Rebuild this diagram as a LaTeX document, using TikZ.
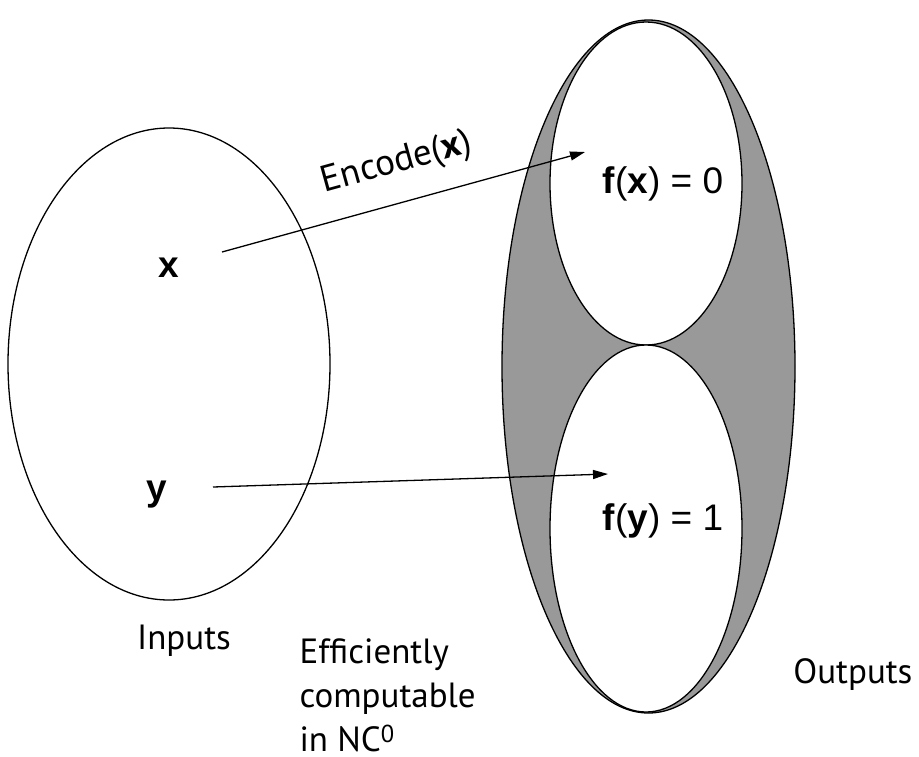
\documentclass[tikz,border=0pt]{standalone}
\usepackage{fontspec}
\setmainfont{PT Sans}
\newfontfamily\arialfont{Liberation Sans}
\usetikzlibrary{arrows.meta}

\tikzset{
  setline/.style={line width=1.3pt},
  txtlabel/.style={font=\fontsize{35}{44}\selectfont},
  arlabel/.style={font=\arialfont\fontsize{37}{40}\selectfont},
}

\begin{document}
\begin{tikzpicture}[x=1pt,y=-1pt,>={Triangle[length=15pt,width=9pt]}]
  \useasboundingbox (0,0) rectangle (919,756);
  % inputs
  \draw[setline] (169,364) ellipse [x radius=161pt, y radius=236pt];
  % outputs
  \fill[black!40] (648.5,366.5) ellipse [x radius=146.5pt, y radius=346.5pt];
  \draw[setline] (648.5,366.5) ellipse [x radius=146.5pt, y radius=346.5pt];
  \draw[setline,fill=white] (646,183.5) ellipse [x radius=96pt, y radius=161.5pt];
  \draw[setline,fill=white] (646,528.5) ellipse [x radius=96pt, y radius=183.5pt];
  % labels
  \node[arlabel] (lx) at (169,268) {\textbf{x}};
  \node[arlabel] (ly) at (157,495) {\textbf{y}};
  \node[arlabel] (fx) at (663,184) {\textbf{f}(\textbf{x}) = 0};
  \node[arlabel] (fy) at (663,521) {\textbf{f}(\textbf{y}) = 1};
  \node[txtlabel] (inputs) at (184,641) {Inputs};
  \node[txtlabel,anchor=east] (outputs) at (916,675) {Outputs};
  \node[txtlabel,align=left,anchor=west] (nc) at (296,695) {Efficiently\\computable\\in NC\textsuperscript{0}};
  % maps
  \coordinate (xs) at (222,252);
  \coordinate (xe) at (585,152);
  \coordinate (ys) at (213,487);
  \coordinate (ye) at (608,474);
  \draw[setline,->] (xs) -- (xe) node[txtlabel,font=\fontsize{37}{44}\selectfont,pos=0.51,above=18pt,sloped] (enc) {Encode(\textbf{x})};
  \draw[setline,->] (ys) -- (ye);
\end{tikzpicture}
\end{document}
